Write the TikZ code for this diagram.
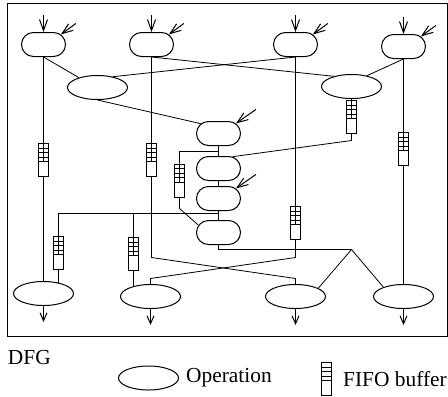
\documentclass[tikz,border=0pt]{standalone}
\usepackage{fontspec}
\setmainfont{Liberation Serif}
\usetikzlibrary{arrows.meta,shapes.geometric,shapes.misc,backgrounds}
\newcommand{\fifocells}{\foreach \k in {1,...,4}{\draw ([yshift=-\k*2.25pt]path picture bounding box.north west)--([yshift=-\k*2.25pt]path picture bounding box.north east);}}

\begin{document}
\begin{tikzpicture}[x=.5pt,y=-.5pt,line width=.5pt,font=\fontsize{10.7pt}{12pt}\selectfont,
pill/.style={rounded rectangle,draw,fill=white,minimum width=22pt,minimum height=12pt,inner sep=0pt},
op/.style={ellipse,draw,fill=white,minimum width=30pt,minimum height=12pt,inner sep=0pt},
fifo/.style={rectangle,draw,fill=white,minimum width=5pt,minimum height=16.5pt,inner sep=0pt,path picture={\fifocells}},
fifow/.style={rectangle,draw,fill=white,minimum width=5pt,minimum height=16.5pt,inner sep=0pt,path picture={\fifocells\draw (path picture bounding box.north)--([yshift=-9pt]path picture bounding box.north);}},
inarr/.style={-{Straight Barb[length=5.5pt,width=4pt]}},
outarr/.style={-{Straight Barb[length=4pt,width=3.5pt]}}]
\useasboundingbox (-.5,-.5) rectangle (447.5,395.5);
\draw (7,3) rectangle (447,336);
\node[pill] (T1) at (43,44) {};
\node[pill] (T2) at (151,44) {};
\node[pill] (T3) at (295,44) {};
\node[pill] (T4) at (403,46) {};
\node[op] (E1) at (97,87) {};
\node[op] (E2) at (351,86) {};
\node[pill] (C1) at (218,133) {};
\node[pill] (C2) at (218,168) {};
\node[pill] (C3) at (218,198) {};
\node[pill] (C4) at (218,232) {};
\node[op] (B1) at (43,293) {};
\node[op] (B2) at (150,296) {};
\node[op] (B3) at (295,296) {};
\node[op] (B4) at (403,296) {};
\node[fifow] (F1) at (43,159.5) {};
\node[fifow] (F2) at (151,159.5) {};
\node[fifow] (F3) at (351,116.5) {};
\node[fifow] (F4) at (403,148.5) {};
\node[fifow] (F5) at (179,180) {};
\node[fifow] (F6) at (295,222.5) {};
\node[fifow] (F7) at (58,252.5) {};
\node[fifow] (F8) at (133,253.5) {};
\coordinate (j1) at (218,151);
\coordinate (j2) at (218,213);
\coordinate (apex) at (351,249);
\begin{scope}[on background layer]
\draw (T1)--(B1);
\draw (T1.south)--(E1.152);
\draw (T2)--(T2 |- 0,257)--(B3 |- 0,278)--(B3);
\draw (T2.south)--(E2.150);
\draw (T3.south)--(E1.35);
\draw (T3)--(T3 |- 0,257)--(B2 |- 0,278)--(B2);
\draw (T4.south)--(E2.35);
\draw (T4)--(B4);
\draw (E1.south)--(C1.151);
\draw (E2)--(E2 |- 0,140)--(C2.40);
\draw (C1)--(C4);
\draw (j1) -| (F5)--(F5 |- 0,208)--(C4.160);
\draw (j2) -| (F7)--(B1 -| F7);
\draw (F8 |- j2)--(B2 -| F8);
\draw (C4) |- (apex)--(B3.20);
\draw (apex)--(B4.155);
\end{scope}
\foreach \n in {T1,T2,T3,T4}{
\draw[inarr] ([yshift=8.5pt]\n.north)--(\n.north);
\draw[inarr] ([shift={(7.5pt,5.5pt)}]\n.30)--(\n.30);}
\foreach \n in {C1,C3} \draw[inarr] ([shift={(10pt,7pt)}]\n.30)--(\n.30);
\foreach \n in {B1,B2,B3,B4} \draw[outarr] (\n.south)--([yshift=-8pt]\n.south);
\node[anchor=base west,inner sep=0pt] (dfg) at (7,364) {DFG};
\node[op] (lop) at (148,377.5) {};
\node[right] (loptxt) at (lop.east) {Operation};
\node[fifo] (lff) at (326,378.5) {};
\node[right=2pt] (lfftxt) at (lff.east) {FIFO buffer};
\end{tikzpicture}
\end{document}
